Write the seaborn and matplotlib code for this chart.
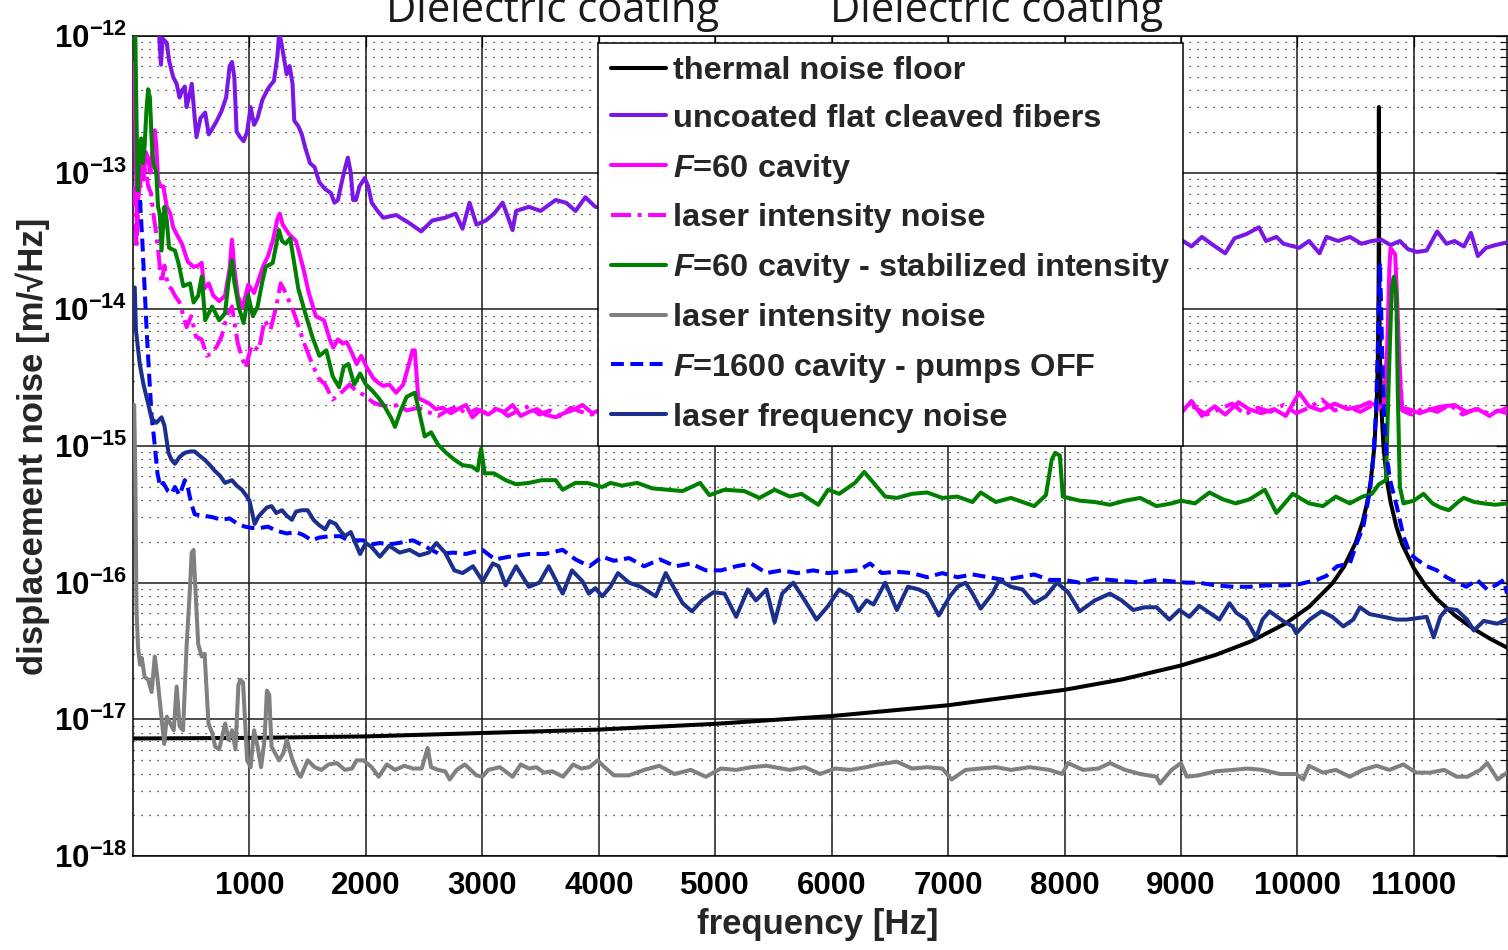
import numpy as np
import pandas as pd
import matplotlib
matplotlib.use("Agg")
import matplotlib.pyplot as plt
import seaborn as sns
from matplotlib.ticker import FixedLocator, NullFormatter, FuncFormatter

# ---------------------------------------------------------------------------
# Displacement noise spectra, values given as log10(m/sqrt(Hz))
# ---------------------------------------------------------------------------

thermal_f = [0, 1000, 2000, 3000, 4000, 5000, 6000, 7000, 8000, 8500, 9000, 9300,
             9600, 9900, 10100, 10300, 10400, 10500, 10560, 10600, 10630, 10660,
             10680, 10690, 10695, 10698, 10700, 10702, 10705, 10710, 10720, 10740,
             10770, 10800, 10850, 10900, 11000, 11100, 11200, 11350, 11500, 11650, 11800]
thermal_log = [-17.14, -17.136, -17.125, -17.10, -17.075, -17.033, -16.976, -16.897,
               -16.784, -16.707, -16.606, -16.528, -16.43, -16.298, -16.177, -16.006,
               -15.883, -15.708, -15.555, -15.41, -15.254, -15.013, -14.71, -14.41,
               -14.11, -13.71, -12.52, -13.71, -14.11, -14.41, -14.71, -15.01, -15.26,
               -15.41, -15.59, -15.72, -15.895, -16.022, -16.121, -16.238, -16.331,
               -16.408, -16.475]

uncoated_f = [200, 225, 240, 255, 290, 310, 345, 375, 400, 420, 445, 460, 480, 505, 530,
              545, 580, 620, 650, 680, 720, 760, 800, 830, 850, 870, 890, 920, 950, 980,
              1010, 1040, 1070, 1110, 1150, 1180, 1210, 1240, 1255, 1270, 1300, 1320,
              1345, 1370, 1385, 1420, 1450, 1480, 1520, 1560, 1600, 1650, 1700, 1730,
              1760, 1790, 1820, 1845, 1870, 1890, 1915, 1945, 1990, 2020, 2050, 2100,
              2150, 2260, 2375, 2475, 2570, 2680, 2770, 2830, 2890, 2950, 3030, 3100,
              3175, 3260, 3290, 3400, 3500, 3630, 3720, 3800, 3885, 3970, 4200, 4600,
              5000, 5500, 6000, 6500, 7000, 7500, 8000, 8500, 8900, 9000, 9090, 9180,
              9260, 9380, 9460, 9560, 9670, 9730, 9820, 9880, 10015, 10100, 10190,
              10250, 10350, 10450, 10550, 10640, 10720, 10800, 10880, 10950, 11025,
              11110, 11200, 11280, 11350, 11430, 11490, 11550, 11620, 11700, 11800]
uncoated_log = [-11.85, -12.0, -12.21, -12.02, -12.05, -12.18, -12.3, -12.35, -12.45,
                -12.4, -12.37, -12.52, -12.45, -12.35, -12.6, -12.74, -12.6, -12.56,
                -12.72, -12.68, -12.62, -12.55, -12.45, -12.22, -12.19, -12.3, -12.7,
                -12.74, -12.77, -12.7, -12.52, -12.65, -12.6, -12.47, -12.4, -12.36,
                -12.33, -12.15, -11.98, -12.03, -12.18, -12.28, -12.22, -12.35, -12.62,
                -12.66, -12.72, -12.82, -12.93, -12.96, -13.07, -13.12, -13.15, -13.22,
                -13.2, -13.08, -12.97, -12.89, -13.0, -13.2, -13.2, -13.1, -13.04, -13.1,
                -13.22, -13.28, -13.33, -13.31, -13.37, -13.43, -13.35, -13.33, -13.30,
                -13.41, -13.22, -13.38, -13.35, -13.3, -13.22, -13.42, -13.28, -13.25,
                -13.28, -13.2, -13.22, -13.28, -13.18, -13.25, -13.27, -13.3, -13.33,
                -13.36, -13.38, -13.4, -13.42, -13.44, -13.46, -13.47, -13.48, -13.49,
                -13.54, -13.47, -13.52, -13.59, -13.48, -13.45, -13.40, -13.5, -13.47,
                -13.52, -13.55, -13.5, -13.59, -13.47, -13.5, -13.47, -13.52, -13.5,
                -13.49, -13.53, -13.5, -13.56, -13.58, -13.57, -13.43, -13.52, -13.5,
                -13.54, -13.44, -13.61, -13.55, -13.53, -13.51]

cavity60_f = [10, 25, 35, 45, 60, 75, 90, 110, 130, 150, 170, 187, 200, 215, 235, 260,
              290, 320, 345, 375, 420, 470, 520, 560, 590, 610, 650, 690, 740, 790, 830,
              850, 870, 900, 940, 990, 1040, 1080, 1120, 1160, 1200, 1240, 1260, 1285,
              1340, 1400, 1460, 1510, 1570, 1640, 1690, 1720, 1760, 1800, 1835, 1870,
              1920, 1960, 2005, 2060, 2110, 2150, 2200, 2260, 2320, 2370, 2400, 2420,
              2450, 2500, 2545, 2600, 2660, 2730, 2790, 2860, 2915, 2980, 3050, 3120,
              3190, 3260, 3330, 3400, 3470, 3540, 3630, 3700, 3770, 3860, 3945, 4000,
              5000, 6000, 7000, 8000, 8900, 9000, 9090, 9180, 9290, 9380, 9495, 9580,
              9690, 9800, 9900, 10015, 10100, 10200, 10320, 10430, 10540, 10620, 10700,
              10740, 10770, 10790, 10800, 10840, 10860, 10880, 10900, 10950, 11050,
              11150, 11250, 11350, 11450, 11550, 11650, 11720, 11800]
cavity60_log = [-12.2, -12.9, -13.45, -13.1, -13.1, -12.95, -13.05, -12.85, -12.9, -13.0,
                -12.78, -12.69, -12.8, -13.05, -13.1, -13.1, -13.25, -13.3, -13.4, -13.45,
                -13.52, -13.65, -13.69, -13.68, -13.66, -13.85, -13.81, -13.9, -13.94,
                -13.9, -13.7, -13.49, -13.7, -13.9, -13.99, -13.82, -13.88, -13.78,
                -13.68, -13.61, -13.5, -13.34, -13.3, -13.38, -13.45, -13.5, -13.69,
                -13.88, -14.05, -14.08, -14.22, -14.28, -14.22, -14.25, -14.24, -14.3,
                -14.4, -14.34, -14.42, -14.5, -14.54, -14.56, -14.55, -14.61, -14.55,
                -14.4, -14.3, -14.3, -14.65, -14.67, -14.69, -14.73, -14.72, -14.76,
                -14.73, -14.7, -14.79, -14.74, -14.77, -14.73, -14.75, -14.70, -14.78,
                -14.75, -14.73, -14.77, -14.79, -14.76, -14.74, -14.70, -14.76, -14.74,
                -14.75, -14.75, -14.75, -14.76, -14.76, -14.76, -14.67, -14.78, -14.71,
                -14.77, -14.68, -14.73, -14.76, -14.73, -14.78, -14.61, -14.71, -14.74,
                -14.69, -14.73, -14.71, -14.68, -14.72, -14.7, -14.3, -13.7, -13.55,
                -13.6, -14.0, -14.5, -14.72, -14.73, -14.76, -14.73, -14.71, -14.70,
                -14.75, -14.73, -14.78, -14.74, -14.76]

intensity60_f = [15, 30, 45, 60, 86, 110, 130, 155, 175, 200, 220, 245, 270, 300, 330,
                 360, 400, 460, 500, 540, 590, 634, 680, 720, 760, 810, 850, 900, 965,
                 1020, 1080, 1130, 1180, 1230, 1268, 1300, 1330, 1380, 1420, 1470, 1530,
                 1590, 1650, 1715, 1760, 1800, 1860, 1920, 1990, 2060, 2120, 2205, 2280,
                 2350, 2450, 2530, 2620, 2700, 2780, 2870, 2950, 3040, 3130, 3220, 3310,
                 3400, 3490, 3580, 3670, 3760, 3850, 3940, 4000, 5000, 6000, 7000, 8000,
                 8900, 9000, 9100, 9220, 9330, 9440, 9550, 9660, 9770, 9880, 9990, 10100,
                 10210, 10320, 10430, 10540, 10650, 10740, 10780, 10800, 10830, 10870,
                 10900, 10980, 11090, 11200, 11310, 11420, 11530, 11640, 11750, 11800]
intensity60_log = [-13.1, -13.55, -13.2, -13.05, -13.02, -12.98, -13.1, -13.15, -13.3,
                   -13.45, -13.6, -13.81, -13.68, -13.83, -13.85, -13.9, -13.95, -14.13,
                   -14.05, -14.2, -14.22, -14.34, -14.32, -14.27, -14.2, -14.04, -13.98,
                   -14.25, -14.43, -14.26, -14.3, -14.08, -14.15, -13.98, -13.81, -13.86,
                   -13.92, -14.02, -14.12, -14.25, -14.38, -14.5, -14.55, -14.66, -14.63,
                   -14.6, -14.55, -14.6, -14.63, -14.68, -14.7, -14.71, -14.7, -14.74,
                   -14.72, -14.75, -14.78, -14.74, -14.71, -14.77, -14.73, -14.76, -14.72,
                   -14.78, -14.74, -14.71, -14.77, -14.74, -14.78, -14.72, -14.75, -14.77,
                   -14.75, -14.76, -14.76, -14.76, -14.76, -14.76, -14.74, -14.71, -14.77,
                   -14.73, -14.69, -14.77, -14.72, -14.75, -14.7, -14.76, -14.72, -14.66,
                   -14.74, -14.71, -14.75, -14.7, -14.74, -14.4, -13.9, -13.75, -14.3,
                   -14.74, -14.77, -14.72, -14.75, -14.7, -14.77, -14.73, -14.76, -14.74,
                   -14.72]

stabilized_f = [10, 20, 30, 40, 50, 70, 85, 100, 115, 130, 145, 160, 175, 200, 215, 230,
                245, 270, 290, 310, 360, 390, 432, 490, 520, 560, 590, 620, 680, 740, 790,
                820, 850, 870, 910, 950, 990, 1030, 1070, 1110, 1140, 1200, 1254, 1280,
                1310, 1350, 1420, 1480, 1540, 1600, 1660, 1715, 1770, 1810, 1850, 1900,
                1950, 2000, 2060, 2110, 2160, 2220, 2250, 2300, 2350, 2420, 2450, 2505,
                2560, 2620, 2690, 2760, 2830, 2910, 2960, 2990, 3020, 3100, 3200, 3290,
                3400, 3510, 3630, 3690, 3800, 3900, 4030, 4100, 4200, 4330, 4460, 4590,
                4720, 4870, 4950, 5080, 5250, 5380, 5510, 5640, 5740, 5885, 5970, 6065,
                6200, 6280, 6360, 6460, 6560, 6690, 6820, 6950, 7080, 7210, 7280, 7410,
                7540, 7740, 7840, 7890, 7920, 7960, 7985, 8130, 8260, 8390, 8520, 8650,
                8790, 8920, 9000, 9120, 9245, 9360, 9470, 9590, 9720, 9820, 9960, 10100,
                10220, 10330, 10450, 10560, 10640, 10700, 10760, 10785, 10810, 10830,
                10850, 10862, 10880, 10911, 11000, 11083, 11160, 11227, 11300, 11380,
                11428, 11520, 11600, 11700, 11800]
stabilized_log = [-11.9, -12.0, -12.6, -13.13, -12.93, -12.75, -12.93, -12.8, -12.55,
                  -12.39, -12.45, -12.75, -12.93, -13.0, -13.25, -13.3, -13.57, -13.25,
                  -13.35, -13.55, -13.57, -13.66, -13.83, -13.81, -13.95, -13.9, -13.76,
                  -14.08, -13.98, -14.08, -14.03, -13.8, -13.64, -13.8, -13.99, -14.1,
                  -13.9, -14.05, -13.98, -13.8, -13.69, -13.66, -13.42, -13.5, -13.52,
                  -13.48, -13.85, -14.03, -14.2, -14.34, -14.3, -14.49, -14.57, -14.42,
                  -14.4, -14.55, -14.47, -14.55, -14.6, -14.65, -14.71, -14.8, -14.86,
                  -14.74, -14.64, -14.61, -14.72, -14.93, -14.9, -14.99, -15.05, -15.1,
                  -15.14, -15.15, -15.18, -15.02, -15.2, -15.2, -15.25, -15.28, -15.27,
                  -15.25, -15.25, -15.32, -15.27, -15.27, -15.3, -15.27, -15.29, -15.27,
                  -15.31, -15.32, -15.33, -15.27, -15.36, -15.32, -15.33, -15.38, -15.32,
                  -15.37, -15.35, -15.43, -15.32, -15.35, -15.27, -15.19, -15.27, -15.37,
                  -15.38, -15.35, -15.34, -15.38, -15.37, -15.41, -15.34, -15.41, -15.38,
                  -15.44, -15.36, -15.1, -15.05, -15.07, -15.37, -15.4, -15.41, -15.43,
                  -15.40, -15.38, -15.44, -15.42, -15.4, -15.42, -15.34, -15.39, -15.42,
                  -15.39, -15.32, -15.49, -15.35, -15.42, -15.44, -15.37, -15.42, -15.37,
                  -15.35, -15.28, -15.25, -14.5, -13.85, -13.76, -13.9, -14.6, -15.3,
                  -15.42, -15.40, -15.35, -15.42, -15.45, -15.47, -15.41, -15.38, -15.41,
                  -15.42, -15.43, -15.42]

intensity_f = [10, 20, 30, 43, 60, 75, 100, 130, 160, 187, 210, 240, 268, 290, 320, 350,
               375, 400, 430, 460, 490, 504, 520, 535, 560, 590, 615, 648, 680, 706, 740,
               792, 820, 850, 880, 905, 922, 945, 980, 1010, 1040, 1070, 1100, 1130, 1150,
               1170, 1190, 1254, 1290, 1321, 1370, 1420, 1440, 1500, 1560, 1618, 1680,
               1750, 1820, 1880, 1920, 1980, 2050, 2110, 2180, 2250, 2330, 2405, 2480,
               2530, 2560, 2620, 2680, 2720, 2780, 2850, 2950, 3000, 3050, 3150, 3260,
               3330, 3400, 3464, 3530, 3600, 3693, 3780, 3850, 3920, 3990, 4050, 4130,
               4260, 4390, 4520, 4650, 4790, 4920, 5050, 5180, 5310, 5440, 5640, 5770,
               5900, 6030, 6160, 6300, 6400, 6560, 6690, 6820, 6950, 7030, 7150, 7280,
               7410, 7540, 7700, 7870, 7980, 8030, 8160, 8290, 8390, 8520, 8650, 8790,
               8820, 8920, 9000, 9050, 9150, 9300, 9450, 9570, 9700, 9850, 9990, 10050,
               10100, 10220, 10330, 10450, 10560, 10680, 10790, 10910, 11020, 11140,
               11260, 11370, 11460, 11570, 11630, 11720, 11800]
intensity_log = [-14.7, -15.2, -16.2, -16.47, -16.6, -16.55, -16.69, -16.71, -16.8,
                 -16.54, -16.7, -16.95, -17.18, -16.98, -17.03, -17.08, -16.76, -17.05,
                 -17.08, -16.47, -16.03, -15.78, -15.76, -16.03, -16.45, -16.54, -16.52,
                 -17.03, -17.1, -17.2, -17.22, -17.03, -17.15, -17.08, -17.22, -16.75,
                 -16.71, -16.73, -17.3, -17.35, -17.08, -17.2, -17.35, -17.15, -16.79,
                 -16.82, -17.2, -17.3, -17.25, -17.15, -17.3, -17.40, -17.42, -17.3,
                 -17.35, -17.37, -17.33, -17.32, -17.37, -17.36, -17.30, -17.30, -17.35,
                 -17.42, -17.33, -17.37, -17.34, -17.36, -17.36, -17.21, -17.35, -17.37,
                 -17.38, -17.44, -17.37, -17.33, -17.41, -17.42, -17.37, -17.35, -17.42,
                 -17.33, -17.36, -17.35, -17.39, -17.38, -17.42, -17.33, -17.36, -17.35,
                 -17.30, -17.35, -17.41, -17.41, -17.37, -17.34, -17.4, -17.37, -17.42,
                 -17.36, -17.37, -17.35, -17.34, -17.37, -17.35, -17.40, -17.36, -17.37,
                 -17.35, -17.33, -17.31, -17.36, -17.35, -17.36, -17.44, -17.37, -17.36,
                 -17.35, -17.37, -17.35, -17.37, -17.40, -17.32, -17.37, -17.36, -17.32,
                 -17.37, -17.40, -17.42, -17.47, -17.37, -17.32, -17.42, -17.41, -17.38,
                 -17.37, -17.36, -17.37, -17.40, -17.40, -17.44, -17.34, -17.39, -17.37,
                 -17.42, -17.37, -17.34, -17.37, -17.33, -17.39, -17.39, -17.37, -17.42,
                 -17.42, -17.37, -17.32, -17.44, -17.39]

cavity1600_f = [60, 80, 100, 120, 140, 160, 185, 210, 235, 260, 300, 330, 360, 400, 445,
                470, 500, 530, 600, 680, 760, 830, 900, 960, 1025, 1090, 1160, 1230, 1320,
                1400, 1460, 1535, 1600, 1690, 1780, 1850, 1977, 2050, 2120, 2200, 2280,
                2405, 2520, 2630, 2750, 2860, 3000, 3110, 3230, 3400, 3540, 3690, 3800,
                3920, 4030, 4130, 4260, 4390, 4525, 4660, 4790, 4920, 5050, 5180, 5310,
                5440, 5570, 5705, 5840, 5970, 6100, 6230, 6330, 6430, 6560, 6690, 6820,
                6950, 7080, 7210, 7345, 7480, 7610, 7740, 7870, 8000, 8130, 8260, 8390,
                8520, 8650, 8790, 8920, 9050, 9150, 9300, 9450, 9590, 9730, 9876, 10020,
                10165, 10250, 10340, 10450, 10510, 10566, 10624, 10652, 10675, 10690,
                10700, 10708, 10718, 10730, 10745, 10767, 10796, 10853, 10911, 10968,
                11025, 11112, 11198, 11280, 11370, 11450, 11543, 11630, 11700, 11773, 11800]
cavity1600_log = [-13.2, -13.5, -13.85, -14.2, -14.5, -14.78, -14.98, -15.2, -15.3, -15.27,
                  -15.33, -15.35, -15.3, -15.36, -15.25, -15.3, -15.42, -15.5, -15.51,
                  -15.52, -15.54, -15.53, -15.57, -15.59, -15.6, -15.6, -15.59, -15.62,
                  -15.64, -15.63, -15.65, -15.69, -15.67, -15.66, -15.66, -15.69, -15.69,
                  -15.72, -15.71, -15.72, -15.71, -15.69, -15.74, -15.79, -15.78, -15.79,
                  -15.76, -15.83, -15.81, -15.79, -15.79, -15.76, -15.83, -15.88, -15.81,
                  -15.84, -15.82, -15.88, -15.83, -15.88, -15.86, -15.91, -15.91, -15.88,
                  -15.86, -15.93, -15.91, -15.93, -15.91, -15.93, -15.92, -15.91, -15.86,
                  -15.93, -15.92, -15.93, -15.96, -15.93, -15.96, -15.94, -15.96, -15.98,
                  -15.96, -15.94, -15.98, -15.98, -16.0, -15.97, -15.98, -15.99, -16.0,
                  -15.98, -15.99, -16.0, -16.0, -16.02, -16.03, -16.03, -16.02, -16.02,
                  -16.01, -15.98, -15.95, -15.88, -15.86, -15.71, -15.59, -15.32, -15.08,
                  -14.75, -14.3, -13.9, -13.66, -13.95, -14.4, -14.8, -15.08, -15.25,
                  -15.44, -15.66, -15.79, -15.83, -15.88, -15.91, -15.96, -16.0, -16.03,
                  -15.98, -16.05, -16.02, -15.98, -16.08]

frequency_f = [15, 25, 58, 90, 130, 160, 200, 245, 270, 305, 330, 360, 400, 445, 490, 530,
               570, 615, 660, 700, 750, 790, 850, 890, 935, 970, 1000, 1045, 1075, 1105,
               1150, 1190, 1230, 1280, 1320, 1365, 1400, 1450, 1500, 1550, 1600, 1650,
               1690, 1740, 1780, 1820, 1870, 1950, 2000, 2050, 2120, 2200, 2290, 2375,
               2460, 2540, 2605, 2680, 2760, 2830, 2920, 3003, 3090, 3140, 3200, 3290,
               3400, 3490, 3570, 3690, 3770, 3860, 3915, 3970, 4030, 4100, 4165, 4260,
               4360, 4490, 4575, 4640, 4720, 4800, 4885, 4985, 5080, 5180, 5280, 5350,
               5440, 5510, 5575, 5670, 5770, 5870, 5970, 6065, 6165, 6230, 6300, 6360,
               6460, 6560, 6655, 6750, 6820, 6920, 7015, 7080, 7150, 7210, 7280, 7380,
               7440, 7540, 7640, 7740, 7840, 7935, 8030, 8130, 8260, 8390, 8490, 8590,
               8690, 8790, 8900, 8986, 9072, 9158, 9244, 9330, 9417, 9475, 9560, 9646,
               9700, 9761, 9876, 9960, 9990, 10106, 10207, 10300, 10394, 10480, 10537,
               10620, 10739, 10850, 10940, 11025, 11110, 11170, 11227, 11284, 11370,
               11457, 11515, 11600, 11715, 11800]
frequency_log = [-13.84, -14.15, -14.4, -14.55, -14.69, -14.8, -14.83, -14.79, -14.85,
                 -15.05, -15.1, -15.13, -15.08, -15.05, -15.04, -15.04, -15.07, -15.1,
                 -15.14, -15.18, -15.22, -15.27, -15.25, -15.29, -15.32, -15.36, -15.40,
                 -15.57, -15.52, -15.49, -15.45, -15.44, -15.49, -15.47, -15.51, -15.54,
                 -15.48, -15.47, -15.47, -15.54, -15.58, -15.61, -15.55, -15.57, -15.62,
                 -15.66, -15.63, -15.79, -15.71, -15.74, -15.81, -15.73, -15.78, -15.76,
                 -15.8, -15.78, -15.71, -15.78, -15.91, -15.93, -15.88, -15.99, -15.86,
                 -15.88, -16.02, -15.88, -16.03, -16.0, -15.88, -16.08, -15.91, -15.99,
                 -16.08, -16.04, -16.1, -16.03, -15.93, -16.0, -16.03, -16.1, -15.93,
                 -16.03, -16.15, -16.21, -16.13, -16.07, -16.08, -16.25, -16.05, -16.13,
                 -16.05, -16.29, -16.08, -16.0, -16.13, -16.27, -16.17, -16.05, -16.1,
                 -16.21, -16.13, -16.16, -16.0, -16.2, -16.03, -16.05, -16.08, -16.24,
                 -16.1, -16.03, -16.0, -16.08, -16.19, -16.08, -15.98, -16.03, -16.05,
                 -16.15, -16.1, -16.0, -16.07, -16.21, -16.13, -16.08, -16.13, -16.2,
                 -16.18, -16.18, -16.27, -16.2, -16.25, -16.17, -16.22, -16.27, -16.15,
                 -16.22, -16.27, -16.40, -16.27, -16.21, -16.28, -16.32, -16.37, -16.27,
                 -16.21, -16.25, -16.32, -16.27, -16.18, -16.23, -16.25, -16.27, -16.27,
                 -16.26, -16.25, -16.4, -16.25, -16.19, -16.2, -16.27, -16.35, -16.28,
                 -16.3, -16.27]

legend_labels = ["thermal noise floor",
                 "uncoated flat cleaved fibers",
                 r"$\mathit{F}$=60 cavity",
                 "laser intensity noise",
                 r"$\mathit{F}$=60 cavity - stabilized intensity",
                 "laser intensity noise",
                 r"$\mathit{F}$=1600 cavity - pumps OFF",
                 "laser frequency noise"]

x_ticks = [1000, 2000, 3000, 4000, 5000, 6000, 7000, 8000, 9000, 10000, 11000]
y_decades = [-18, -17, -16, -15, -14, -13, -12]

# ---------------------------------------------------------------------------
# Style
# ---------------------------------------------------------------------------
sns.set_theme(style="white")
plt.rcParams["font.family"] = ["Liberation Sans", "DejaVu Sans"]
plt.rcParams["font.weight"] = "bold"
plt.rcParams["mathtext.fontset"] = "custom"
plt.rcParams["mathtext.rm"] = "Liberation Sans:bold"
plt.rcParams["mathtext.bf"] = "Liberation Sans:bold"
plt.rcParams["mathtext.sf"] = "Liberation Sans:bold"
plt.rcParams["mathtext.it"] = "Liberation Sans:bold:italic"
plt.rcParams["mathtext.default"] = "regular"

fig = plt.figure(figsize=(15.08, 9.5), dpi=100)
ax = fig.add_axes([133 / 1508, 94 / 950, 1374 / 1508, 820 / 950])

series = [
    (thermal_f, thermal_log, "#000000", "-"),
    (uncoated_f, uncoated_log, "#7a17e6", "-"),
    (cavity60_f, cavity60_log, "#ff00ff", "-"),
    (intensity60_f, intensity60_log, "#ff00ff", (0, (5.0, 1.6, 1.0, 1.6))),
    (stabilized_f, stabilized_log, "#008000", "-"),
    (intensity_f, intensity_log, "#808080", "-"),
    (cavity1600_f, cavity1600_log, "#0000ff", (0, (3.2, 1.6))),
    (frequency_f, frequency_log, "#1c2f8c", "-"),
]

for (f, lg, color, ls), label in zip(series, legend_labels):
    df = pd.DataFrame({"frequency": f, "asd": 10.0 ** np.asarray(lg)})
    sns.lineplot(data=df, x="frequency", y="asd", ax=ax, color=color, linestyle=ls,
                 linewidth=2.9, estimator=None, sort=False, label=label, zorder=3)

ax.set_yscale("log")
ax.set_xlim(0, 11800)
ax.set_ylim(1e-18, 1e-12)

ax.xaxis.set_major_locator(FixedLocator(x_ticks))
ax.xaxis.set_major_formatter(FuncFormatter(lambda v, _: f"{int(v)}"))
ax.xaxis.set_minor_locator(FixedLocator([]))
ax.yaxis.set_major_locator(FixedLocator([10.0 ** d for d in y_decades]))
ax.yaxis.set_minor_locator(FixedLocator(
    [m * 10.0 ** d for d in y_decades[:-1] for m in range(2, 10)]))
ax.yaxis.set_minor_formatter(NullFormatter())
ax.yaxis.set_major_formatter(
    FuncFormatter(lambda v, _: r"$\mathbf{10^{%d}}$" % int(round(np.log10(v)))))

ax.set_axisbelow(True)
ax.grid(which="major", axis="both", color="#1a1a1a", linewidth=1.1, linestyle="-")
ax.grid(which="minor", axis="y", color="#000000", linewidth=0.9,
        linestyle=(0, (0.9, 5.5)))

for sp in ax.spines.values():
    sp.set_visible(True)
    sp.set_color("#000000")
    sp.set_linewidth(1.1)

ax.tick_params(which="both", direction="in", top=True, right=True, colors="#000000")
ax.tick_params(which="major", length=8, width=0.9, labelsize=22.5)
ax.tick_params(which="minor", length=5, width=0.8)
ax.tick_params(axis="x", which="major", pad=11)
ax.tick_params(axis="y", which="major", pad=4)

ax.set_xlabel("frequency [Hz]", fontsize=25, fontweight="bold")
ax.set_ylabel("displacement noise [m/\u221aHz]", fontsize=25, fontweight="bold")
ax.xaxis.label.set_va("center")
ax.yaxis.label.set_va("center")
ax.xaxis.set_label_coords(0.498, -0.084)
ax.yaxis.set_label_coords(-0.073, 0.5)

handles, labels = ax.get_legend_handles_labels()
leg = ax.legend(handles, labels, loc="upper left",
                bbox_to_anchor=(598 / 1508, 1 - 43 / 950),
                bbox_transform=fig.transFigure, frameon=True, fancybox=False,
                shadow=False, framealpha=1.0, edgecolor="#000000", facecolor="white",
                fontsize=23.4, handlelength=1.7, handletextpad=0.2, labelspacing=0.548,
                borderpad=0.4, borderaxespad=0.0)
leg.get_frame().set_linewidth(1.1)
leg.set_zorder(10)

for xc in (553, 997):
    fig.text(xc / 1508, 1 - 22 / 950, "Dielectric coating", ha="center", va="baseline",
             fontsize=30, family="Open Sans", fontweight="normal", color="#1a1a1a")

fig.savefig("out.png", dpi=100)
